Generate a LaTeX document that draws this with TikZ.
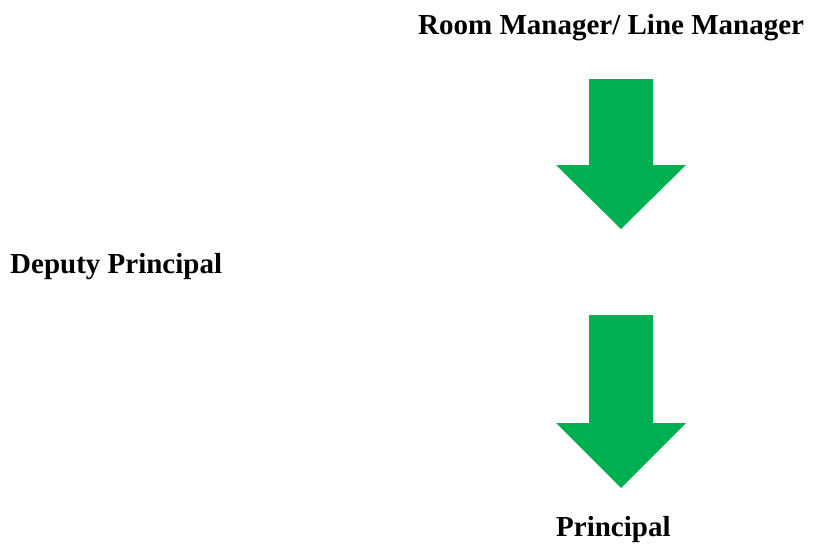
\documentclass[tikz,border=0pt]{standalone}
\usepackage{fontspec}
\setmainfont{Liberation Serif}
\usepackage{tikz}
\definecolor{arrowgreen}{HTML}{00B050}
\def\blockarrow[#1](#2:#3:#4:#5){\fill[#1] (#2-32,#3) -- (#2+32,#3) -- (#2+32,#4) -- (#2+65,#4) -- (#2,#5) -- (#2-65,#4) -- (#2-32,#4) -- cycle;}

\begin{document}
\begin{tikzpicture}[x=1pt,y=-1pt,
	label/.style={font=\fontsize{29}{33}\selectfont\bfseries, inner sep=0pt, anchor=base west}]
			%%%%% START %%%%%
			
			\useasboundingbox (0, 0) rectangle (813, 544);
			
			\node[label] (room) at (418, 34) {Room Manager/ Line Manager};
			
			\blockarrow[arrowgreen](621:79:165:229);
			
			\node[label] (deputy) at (10, 273) {Deputy Principal};
			
			\blockarrow[arrowgreen](621:315:423:488);
			
			\node[label] (principal) at (556, 536) {Principal};
			
			%%%%% END %%%%%
		\end{tikzpicture}
\end{document}
